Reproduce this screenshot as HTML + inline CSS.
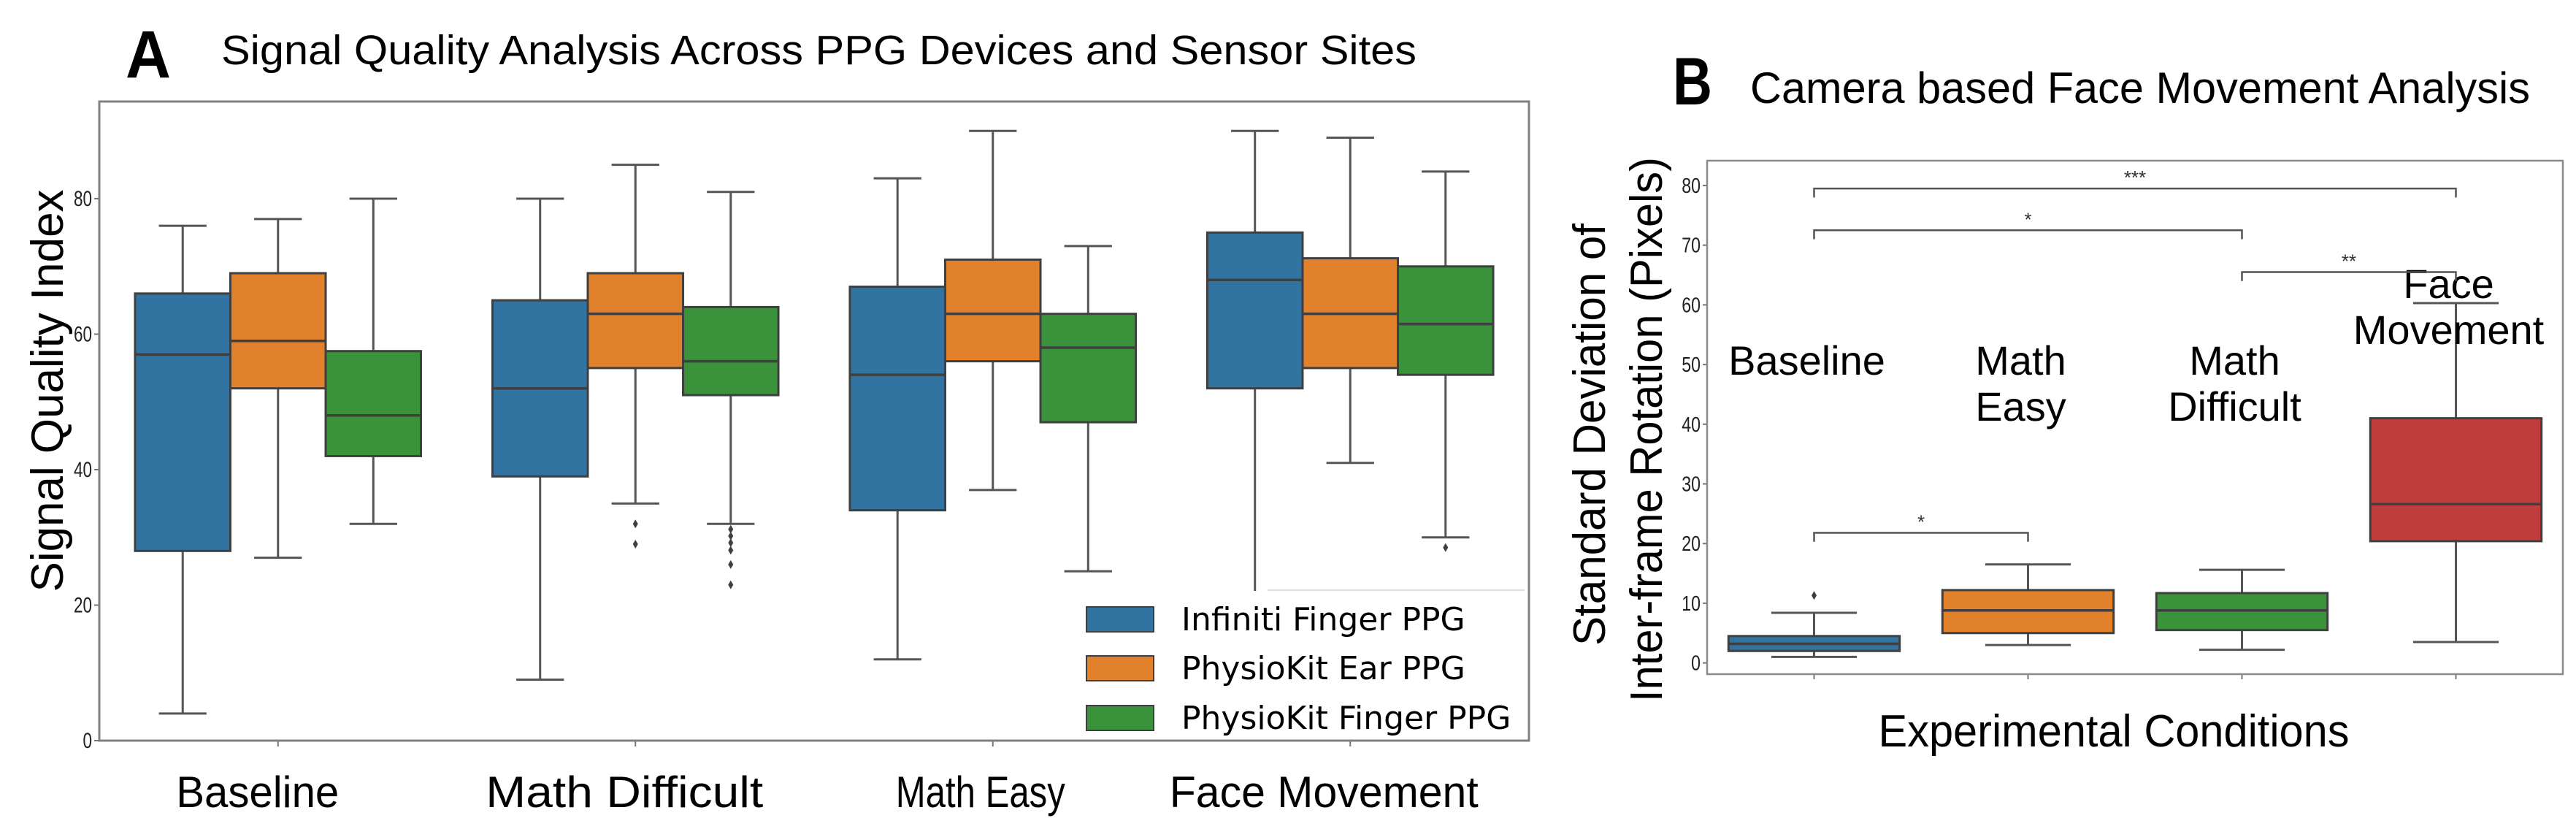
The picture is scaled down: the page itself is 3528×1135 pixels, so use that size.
<!DOCTYPE html>
<html><head><meta charset="utf-8"><style>
html,body{margin:0;padding:0;background:#fff;}
svg{display:block;font-family:"Liberation Sans",Arial,sans-serif;}
</style></head><body>
<svg id="fig" xmlns="http://www.w3.org/2000/svg" width="3528" height="1135" viewBox="0 0 3528 1135">
<rect width="3528" height="1135" fill="#fff"/>
<text x="172" y="106" font-size="92" font-weight="bold" textLength="62" lengthAdjust="spacingAndGlyphs">A</text>
<text x="303" y="88" font-size="57" textLength="1637" lengthAdjust="spacingAndGlyphs">Signal Quality Analysis Across PPG Devices and Sensor Sites</text>
<text x="2291" y="143" font-size="92" font-weight="bold" textLength="54" lengthAdjust="spacingAndGlyphs">B</text>
<text x="2397" y="141" font-size="60" textLength="1068" lengthAdjust="spacingAndGlyphs">Camera based Face Movement Analysis</text>
<text transform="translate(86,535) rotate(-90)" text-anchor="middle" font-size="62" textLength="551" lengthAdjust="spacingAndGlyphs">Signal Quality Index</text>
<text transform="translate(2198,595) rotate(-90)" text-anchor="middle" font-size="62" textLength="578" lengthAdjust="spacingAndGlyphs">Standard Deviation of</text>
<text transform="translate(2276,588) rotate(-90)" text-anchor="middle" font-size="62" textLength="746" lengthAdjust="spacingAndGlyphs">Inter-frame Rotation (Pixels)</text>
<text x="2895" y="1022" text-anchor="middle" font-size="62" textLength="645" lengthAdjust="spacingAndGlyphs">Experimental Conditions</text>
<g id="ga"></g>
<g id="gb"></g>
</svg>
<script>
// ---------- Panel A data ----------
const catsA = ["Baseline","Math Difficult","Math Easy","Face Movement"];
const seriesNamesA = ["Infiniti Finger PPG","PhysioKit Ear PPG","PhysioKit Finger PPG"];
// [low whisker, Q1, median, Q3, high whisker] per category
const infinitiA = [[4,28,57,66,76],[9,39,52,65,80],[12,34,54,67,83],[8,52,68,75,90]];
const earA      = [[27,52,59,69,77],[35,55,63,69,85],[37,56,63,71,90],[41,55,63,71.2,89]];
const fingerA   = [[32,42,48,57.5,80],[32,51,56,64,81],[25,47,58,63,73],[30,54,61.5,70,84]];
const outEarA    = [[],[32,29],[],[]];
const outFingerA = [[],[31.2,30.2,29.2,28.1,26,23],[],[28.5]];
const outInfA    = [[],[],[],[]];
const ticksA = [0,20,40,60,80];
// ---------- Panel B data ----------
const catsB = ["Baseline","Math Easy","Math Difficult","Face Movement"];
const labelLinesB = [["Baseline"],["Math","Easy"],["Math","Difficult"],["Face","Movement"]];
const boxesB = [[1.0,2.0,3.2,4.5,8.4],[3.0,5.0,8.8,12.2,16.5],[2.2,5.5,8.8,11.7,15.6],[3.5,20.4,26.6,41,60.3]];
const outliersB = [[11.3],[],[],[]];
const ticksB = [0,10,20,30,40,50,60,70,80];
// brackets: [from index, to index, level, label]
const bracketFrom = [0,0,2,0];
const bracketTo   = [3,2,3,1];
const bracketLvl  = [79.5,72.5,65.5,21.8];
const bracketLbl  = ["***","*","**","*"];

const NS="http://www.w3.org/2000/svg";
function mk(tag,attrs,parent,txt){const e=document.createElementNS(NS,tag);for(const k in attrs)e.setAttribute(k,attrs[k]);if(txt!==undefined)e.textContent=txt;parent.appendChild(e);return e;}
const colA=["#3274a1","#e1812c","#3a923a"];
const colB=["#3274a1","#e1812c","#3a923a","#c03d3e"];
const EDGE="#3f3f3f", WH="#555";

function drawBox(g,cx,w,s,y,color,name,capW){
  const [lo,q1,md,q3,hi]=s;
  let l=mk('line',{x1:cx,x2:cx,y1:y(hi),y2:y(q3),stroke:WH,'stroke-width':3},g);
  
  
  l=mk('line',{x1:cx,x2:cx,y1:y(q1),y2:y(lo),stroke:WH,'stroke-width':3},g);
  
  
  l=mk('line',{x1:cx-capW/2,x2:cx+capW/2,y1:y(hi),y2:y(hi),stroke:WH,'stroke-width':3},g);
  
  
  l=mk('line',{x1:cx-capW/2,x2:cx+capW/2,y1:y(lo),y2:y(lo),stroke:WH,'stroke-width':3},g);
  
  
  const r=mk('rect',{x:cx-w/2,y:y(q3),width:w,height:y(q1)-y(q3),fill:color,stroke:EDGE,'stroke-width':3},g);
  
  
  l=mk('line',{x1:cx-w/2,x2:cx+w/2,y1:y(md),y2:y(md),stroke:EDGE,'stroke-width':3.5},g);
  
  
}
function outl(g,cx,v,y,name){
  const e=mk('path',{d:`M${cx},${y(v)-6} L${cx+3.5},${y(v)} L${cx},${y(v)+6} L${cx-3.5},${y(v)} Z`,fill:"#3f3f3f"},g);
  
  
}

// ---------- Panel A ----------
(function(){
  const g=document.getElementById('ga');
  const L=136,R=2094,T=139,B=1014;
  const y=v=>1014-v*9.275;
  const band=(R-L)/catsA.length;
  const xc=i=>L+band*(i+0.5);
  const bw=band*0.8/3;
  ticksA.forEach(t=>{
    let l=mk('line',{x1:L-7,x2:L,y1:y(t),y2:y(t),stroke:"#777",'stroke-width':2},g);
    
    
    let tx=mk('text',{x:L-10,y:y(t)+10,'text-anchor':'end','font-size':30,fill:"#222",transform:`translate(${(L-10)*0.25},0) scale(0.75,1)`},g,String(t));
    
    
  });
  const series=[infinitiA,earA,fingerA], outs=[outInfA,outEarA,outFingerA];
  const lblOff=[-28,-15,-17,-36];
  const lblW=[223,380,232,423];
  catsA.forEach((c,i)=>{
    series.forEach((s,j)=>{
      const cx=xc(i)+(j-1)*bw;
      drawBox(g,cx,bw,s[i],y,colA[j],'panel-a-'+c.toLowerCase().replace(/ /g,'-')+'-series'+j,bw*0.5);
      outs[j][i].forEach(v=>outl(g,cx,v,y,'panel-a-series'+j));
    });
    let l=mk('line',{x1:xc(i),x2:xc(i),y1:B,y2:B+8,stroke:"#777",'stroke-width':2},g);
    
    
    let tx=mk('text',{x:xc(i)+lblOff[i],y:1105,'text-anchor':'middle','font-size':60,textLength:lblW[i],lengthAdjust:'spacingAndGlyphs'},g,c);
    
    
  });
  // legend
  let lg=mk('g',{},g);
  
  
  let bg=mk('rect',{x:1470,y:809,width:622,height:203,fill:"#fff"},lg);
  
  
  let bl=mk('line',{x1:1736,x2:2088,y1:808,y2:808,stroke:"#ddd",'stroke-width':2},lg);
  
  
  const rowsY=[831,898,966];
  seriesNamesA.forEach((n,j)=>{
    let p=mk('rect',{x:1488,y:rowsY[j],width:92,height:34,fill:colA[j],stroke:EDGE,'stroke-width':2},lg);
    
    
    let t=mk('text',{x:1618,y:rowsY[j]+32,'font-size':44,'font-family':'"DejaVu Sans",sans-serif'},lg,n);
    
    
  });
  let f=mk('rect',{x:L,y:T,width:R-L,height:B-T,fill:"none",stroke:"#808080",'stroke-width':3},g);
  
  
})();

// ---------- Panel B ----------
(function(){
  const g=document.getElementById('gb');
  const L=2338,R=3510,T=220,B=923;
  const y=v=>907.6-v*8.17;
  const band=(R-L)/catsB.length;
  const xc=i=>L+band*(i+0.5);
  const bw=band*0.8;
  ticksB.forEach(t=>{
    let l=mk('line',{x1:L-6,x2:L,y1:y(t),y2:y(t),stroke:"#777",'stroke-width':2},g);
    
    
    let tx=mk('text',{x:L-9,y:y(t)+10,'text-anchor':'end','font-size':29,fill:"#222",transform:`translate(${(L-9)*0.2},0) scale(0.8,1)`},g,String(t));
    
    
  });
  catsB.forEach((c,i)=>{
    drawBox(g,xc(i),bw,boxesB[i],y,colB[i],'panel-b-'+c.toLowerCase().replace(/ /g,'-'),bw*0.5);
    outliersB[i].forEach(v=>outl(g,xc(i),v,y,'panel-b-'+i));
    let l=mk('line',{x1:xc(i),x2:xc(i),y1:B,y2:B+7,stroke:"#777",'stroke-width':2},g);
    
    
  });
  const lblBase=[513,513,513,408];
  labelLinesB.forEach((lines,i)=>{
    lines.forEach((s,k)=>{
      let t=mk('text',{x:xc(i)-10,y:lblBase[i]+k*63,'text-anchor':'middle','font-size':56},g,s);
      
      
    });
  });
  bracketLvl.forEach((lv,k)=>{
    const x1=xc(bracketFrom[k]),x2=xc(bracketTo[k]);
    const p=mk('path',{d:`M${x1},${y(lv-1.5)} L${x1},${y(lv)} L${x2},${y(lv)} L${x2},${y(lv-1.5)}`,fill:"none",stroke:"#555",'stroke-width':2.5},g);
    
    
    const t=mk('text',{x:(x1+x2)/2,y:y(lv)-6,'text-anchor':'middle','font-size':26,fill:"#333"},g,bracketLbl[k]);
    
    
  });
  let f=mk('rect',{x:L,y:T,width:R-L,height:B-T,fill:"none",stroke:"#8a8a8a",'stroke-width':2.5},g);
  
  
})();
</script>
</body></html>
